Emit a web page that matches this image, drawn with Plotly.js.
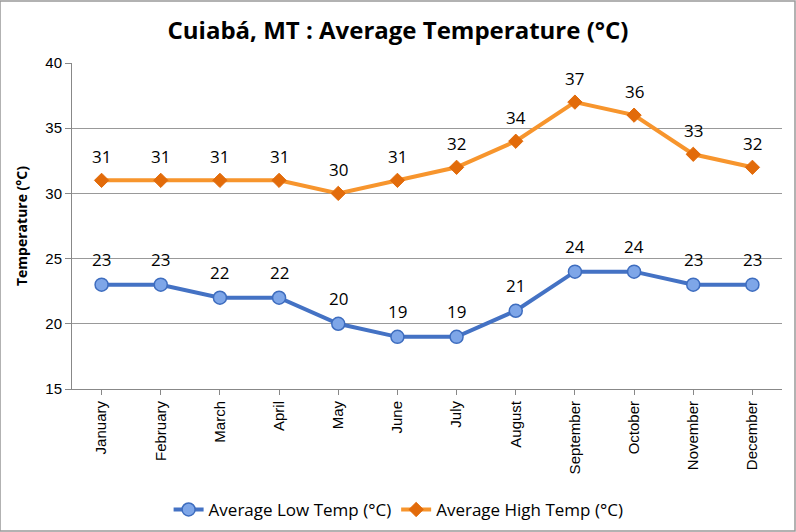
<!DOCTYPE html>
<html>
<head>
<meta charset="utf-8">
<script src="https://cdn.plot.ly/plotly-3.0.1.min.js"></script>
<style>html,body{margin:0;padding:0;background:#fff;}#chart{width:796px;height:532px;}</style>
</head>
<body>
<div id="chart"></div>
<script>
const months = ["January","February","March","April","May","June","July","August","September","October","November","December"];
const lowTemp = [23,23,22,22,20,19,19,21,24,24,23,23];
const highTemp = [31,31,31,31,30,31,32,34,37,36,33,32];
const yTicks = [15,20,25,30,35,40];

const idx = months.map((m,i)=>i);

const traces = [
  {
    x: idx, y: lowTemp, name: "Average Low Temp (°C)", type: "scatter", mode: "lines+markers",
    line: {color: "#4472C4", width: 4},
    marker: {symbol: "circle", size: 13, color: "#7EA6E8", line: {color: "#3E6DBF", width: 1.5}}
  },
  {
    x: idx, y: highTemp, name: "Average High Temp (°C)", type: "scatter", mode: "lines+markers",
    line: {color: "#F7952D", width: 4},
    marker: {symbol: "diamond", size: 11, color: "#E26B0A", line: {color: "#E26B0A", width: 1}}
  }
];

const annotations = [];
lowTemp.forEach((v,i)=>annotations.push({x:i,y:v,text:String(v),showarrow:false,yshift:25,font:{family:"Open Sans, sans-serif",size:17,color:"#000"}}));
highTemp.forEach((v,i)=>annotations.push({x:i,y:v,text:String(v),showarrow:false,yshift:24,font:{family:"Open Sans, sans-serif",size:17,color:"#000"}}));

const layout = {
  width: 796, height: 532,
  margin: {l: 72, r: 14, t: 63, b: 143, autoexpand: false},
  paper_bgcolor: "#fff", plot_bgcolor: "#fff",
  title: {text: "<b>Cuiabá, MT : Average Temperature (°C)</b>", x: 0.5, xanchor: "center", y: 0.943, yanchor: "middle",
          font: {family: "Open Sans, sans-serif", size: 24, color: "#000"}},
  xaxis: {
    range: [-0.5, 11.5], tickmode: "array", tickvals: idx, ticktext: months, tickangle: -90,
    tickson: "boundaries", ticks: "outside", ticklen: 5, tickcolor: "#888",
    showgrid: false, showline: true, linecolor: "#888", linewidth: 1, zeroline: false, automargin: false,
    tickfont: {family: "Liberation Sans, Arial, sans-serif", size: 15, color: "#000"}, fixedrange: true
  },
  yaxis: {
    range: [15, 40], tickmode: "array", tickvals: yTicks, ticks: "outside", ticklen: 6, tickcolor: "#888",
    showgrid: true, gridcolor: "#999", gridwidth: 1, showline: true, linecolor: "#888", zeroline: false, automargin: false,
    tickfont: {family: "Liberation Sans, Arial, sans-serif", size: 15, color: "#000"},
    title: {text: "<b>Temperature (°C)</b>", standoff: 14, font: {family: "Open Sans, sans-serif", size: 14, color: "#000"}}
  },
  legend: {orientation: "h", x: 0.46, xanchor: "center", y: -0.371, yanchor: "middle",
           font: {family: "Open Sans, sans-serif", size: 17, color: "#000"}, traceorder: "normal"},
  annotations: annotations,
  shapes: [{type: "rect", xref: "paper", yref: "paper", x0: -72/710, x1: 1 + 13/710, y0: -142/326, y1: 1 + 62/326,
            line: {color: "#999", width: 1.5}, fillcolor: "rgba(0,0,0,0)"}],
  showlegend: true
};

Plotly.newPlot("chart", traces, layout, {displayModeBar: false, staticPlot: true});
</script>
</body>
</html>
